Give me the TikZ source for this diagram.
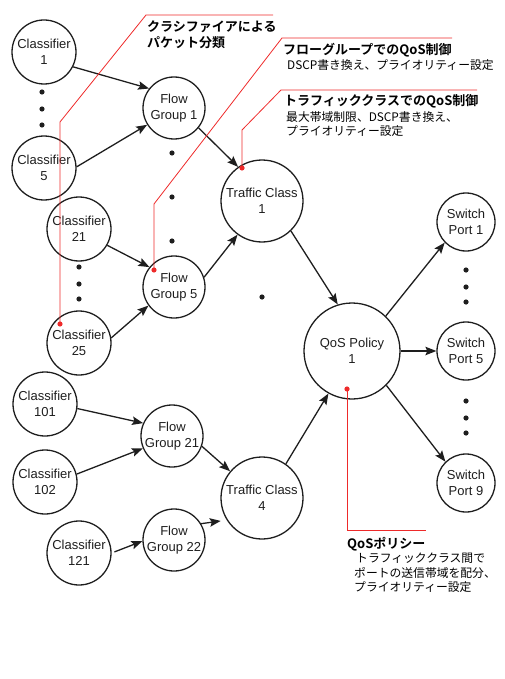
\documentclass[tikz,border=0pt]{standalone}
\usepackage{fontspec}
\setmainfont{Liberation Sans}
\newfontfamily\jp{Noto Sans CJK JP}
\newfontfamily\jpb{Noto Sans CJK JP Bold}
\usetikzlibrary{arrows.meta}
\definecolor{ink}{HTML}{1E1E1E}
\definecolor{leadred}{HTML}{EE2A2A}
\tikzset{
  nd/.style={circle, draw=ink, line width=1.3pt, align=center, inner sep=0pt, text=ink,
    font=\fontsize{13}{15.5}\selectfont},
  cls/.style={nd, minimum size=64pt},
  fg/.style={nd, minimum size=62pt},
  tc/.style={nd, minimum size=82pt},
  qp/.style={nd, minimum size=96pt},
  sp/.style={nd, minimum size=58pt},
  arr/.style={draw=ink, line width=1.3pt, -{Stealth[length=11pt,width=8.5pt,inset=2pt]}},
  dotn/.style={fill=ink},
  lead/.style={draw=leadred, line width=0.8pt},
  reddot/.style={fill=leadred},
  ttl/.style={anchor=base west, inner sep=0pt, text=black, font=\jpb\fontsize{13}{15}\selectfont},
  txt/.style={anchor=base west, inner sep=0pt, text=black, font=\jp\fontsize{11.8}{14}\selectfont}
}
\begin{document}
\begin{tikzpicture}[x=1pt,y=-1pt]
\useasboundingbox (0,0) rectangle (504,679);
% nodes
\node[cls] (c1) at (44,52) {Classifier\\1};
\node[cls] (c5) at (44,168) {Classifier\\5};
\node[cls] (c21) at (79,229) {Classifier\\21};
\node[cls] (c25) at (79,343) {Classifier\\25};
\node[cls] (c101) at (45,404) {Classifier\\101};
\node[cls] (c102) at (45,482) {Classifier\\102};
\node[cls] (c121) at (79,553) {Classifier\\121};
\node[fg] (fg1) at (174,108) {Flow\\Group 1};
\node[fg] (fg5) at (174,287) {Flow\\Group 5};
\node[fg] (fg21) at (172,436) {Flow\\Group 21};
\node[fg] (fg22) at (174,540) {Flow\\Group 22};
\node[tc] (tc1) at (262,201) {Traffic Class\\1};
\node[tc] (tc4) at (262,498) {Traffic Class\\4};
\node[qp] (qos) at (352,351) {QoS Policy\\1};
\node[sp] (sp1) at (466,222) {Switch\\Port 1};
\node[sp] (sp5) at (466,351) {Switch\\Port 5};
\node[sp] (sp9) at (466,483) {Switch\\Port 9};
% dots
\foreach \x/\y in {42/92,42/109,42/125, 172/153,172/197,172/241, 79/267,79/284,79/299,
  262/297, 466/270,466/287,466/302, 466/401,466/418,466/433}
  \fill[dotn] (\x,\y) circle (2.6);
% arrows
\draw[arr] (c1.-27) -- (fg1.142);
\draw[arr] (c5.2) -- (fg1.212);
\draw[arr] (fg1.-39) -- (tc1.125);
\draw[arr] (c21.-30) -- (fg5.141);
\draw[arr] (c25.9) -- (fg5.216);
\draw[arr] (fg5.18) -- (tc1.234);
\draw[arr] (tc1.-46) -- (qos.107);
\draw[arr] (qos.46) -- (sp1.224);
\draw[arr] (qos.0) -- (sp5.180);
\draw[arr] (qos.-45) -- (sp9.134);
\draw[arr] (tc4.55) -- (qos.241);
\draw[arr] (c101.-8) -- (fg21.156);
\draw[arr] (c102.14) -- (fg21.203);
\draw[arr,shorten <=3pt] (c121.0) -- (fg22.182);
\draw[arr] (fg21.-19) -- (tc4.140);
\draw[arr,shorten >=6pt] (fg22.31) -- (tc4.212);
% callouts
\coordinate (r1) at (60,324);
\coordinate (r2) at (154,270);
\coordinate (r3) at (242,168);
\coordinate (r4) at (347,389);
\draw[lead] (r1) -- (60,122) -- (146,15) -- (273,15);
\draw[lead] (r2) -- (154,204) -- (282,38) -- (452,38);
\draw[lead] (r3) -- (242,130) -- (281,90) -- (477,90);
\draw[lead] (r4) -- (347,530) -- (426,530);
\foreach \p in {r1,r2,r3,r4} \fill[reddot] (\p) circle (2.6);
% texts
\node[ttl] (t1a) at (147,32) {クラシファイアによる};
\node[ttl] (t1b) at (147,48) {パケット分類};
\node[ttl] (t2a) at (283,55) {フローグループでのQoS制御};
\node[txt] (t2b) at (287,69.5) {DSCP書き換え、プライオリティー設定};
\node[ttl] (t3a) at (284,106) {トラフィッククラスでのQoS制御};
\node[txt] (t3b) at (286,121.5) {最大帯域制限、DSCP書き換え、};
\node[txt] (t3c) at (286,135.5) {プライオリティー設定};
\node[ttl] (t4a) at (347,548) {QoSポリシー};
\node[txt] (t4b) at (356,562.5) {トラフィッククラス間で};
\node[txt] (t4c) at (354,577.5) {ポートの送信帯域を配分、};
\node[txt] (t4d) at (354,591.5) {プライオリティー設定};
\end{tikzpicture}
\end{document}
